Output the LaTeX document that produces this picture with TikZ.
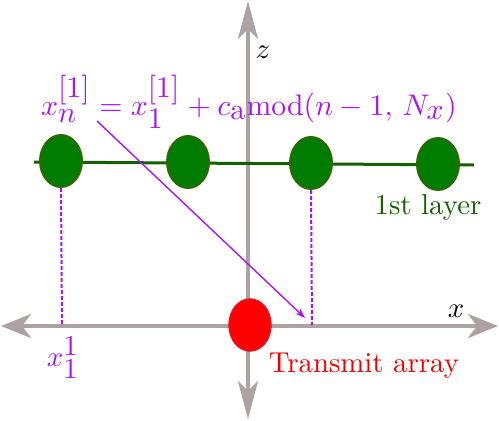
\documentclass[tikz,border=0pt]{standalone}
\usetikzlibrary{arrows.meta,shapes.geometric}
\DeclareMathSizes{10}{10}{10}{10}
\definecolor{axgray}{RGB}{172,162,162}
\definecolor{dgreen}{RGB}{20,95,0}
\definecolor{egreen}{RGB}{0,125,0}
\definecolor{eborder}{RGB}{45,105,0}
\definecolor{purp}{RGB}{170,20,245}
\definecolor{tred}{RGB}{240,0,0}
\definecolor{rborder}{RGB}{225,20,30}
\begin{document}
\begin{tikzpicture}[x=1pt,y=-1pt,
  axis/.style={draw=axgray,line width=4.5pt},
  haxtip/.style={-{Stealth[length=30pt,width=24pt,inset=9pt]}},
  vaxtip/.style={-{Stealth[length=38pt,width=20pt,inset=10pt]}},
  gnode/.style={draw=eborder,fill=egreen,line width=2pt,ellipse,minimum width=42pt,minimum height=52pt,inner sep=0pt},
  rnode/.style={draw=rborder,fill=red,line width=1.5pt,ellipse,minimum width=42pt,minimum height=52pt,inner sep=0pt},
  dd/.style={draw=purp,line width=2pt,dash pattern=on 4pt off 2pt},
  lbl/.style={inner sep=0pt},
  txtlbl/.style={font=\normalsize,scale=2.88,transform shape},
  eqlbl/.style={font=\normalsize,scale=2.98,transform shape}]
\useasboundingbox (0,0) rectangle (499,421);
\coordinate (o) at (248,326);
\coordinate (zt) at (248,1);
\coordinate (zd) at (248,419);
\coordinate (xl) at (1,326);
\coordinate (xr) at (498,326);
\draw[axis,vaxtip] (o) -- (zt);
\draw[axis,vaxtip] (o) -- (zd);
\draw[axis,haxtip] (o) -- (xl);
\draw[axis,haxtip] (o) -- (xr);
% layer line
\coordinate (ll) at (34,162);
\coordinate (lr) at (474,165);
\draw[dgreen,line width=3pt] (ll) -- (lr);
\node[gnode] (e1) at (61,161) {};
\node[gnode] (e2) at (188,162) {};
\node[gnode] (e3) at (311,163) {};
\node[gnode] (e4) at (438,164) {};
% projections
\coordinate (p1) at (62,325);
\coordinate (p3) at (312,325);
\draw[dd] (e1.south) -- (p1);
\draw[dd] (e3.south) -- (p3);
% transmit array
\node[rnode] (tx) at (250,325) {};
% labels
\node[lbl,eqlbl,purp] (eq) at (249,102) {$x_n^{[1]}=x_1^{[1]}+c_{\mathrm{a}}\mathrm{mod}(n-1,\,N_x)$};
\coordinate (as) at (97,121);
\coordinate (ae) at (305,318);
\draw[purp,line width=1.4pt,-{Stealth[length=10pt,width=7pt]}] (as) -- (ae);
\node[lbl,txtlbl] (zl) at (263,52) {$z$};
\node[lbl,txtlbl] (xlab) at (456,311) {$x$};
\node[lbl,txtlbl,purp] (x11) at (63,358) {$x_1^1$};
\node[lbl,txtlbl,dgreen] (layer) at (428,207) {1st layer};
\node[lbl,txtlbl,tred] (txl) at (364,366) {Transmit array};
\end{tikzpicture}
\end{document}
